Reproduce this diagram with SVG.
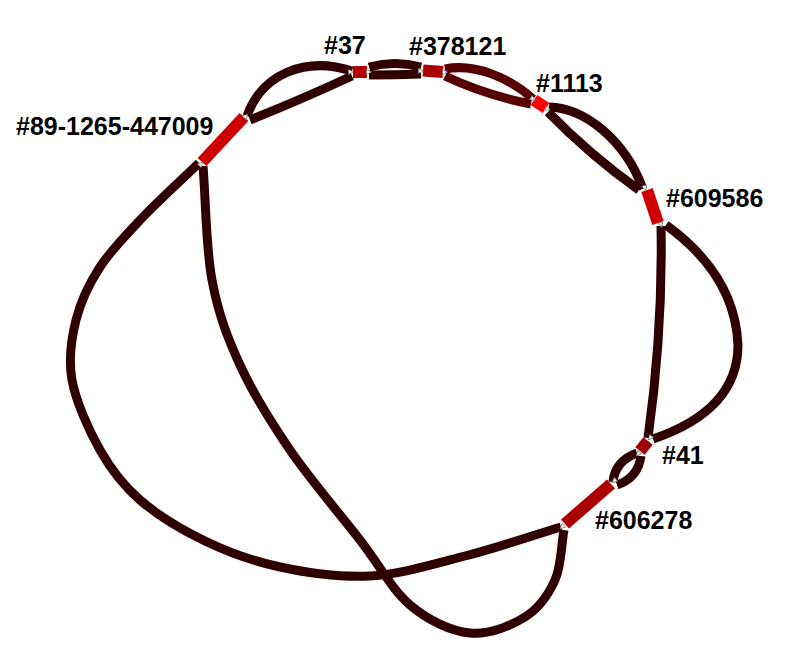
<svg xmlns="http://www.w3.org/2000/svg" width="800" height="653" viewBox="0 0 800 653">
<style>
.e{fill:none;stroke:#300000;stroke-width:9;stroke-linecap:butt}
.e2{fill:none;stroke:#560000;stroke-width:9;stroke-linecap:butt}
.n{fill:none;stroke-width:12;stroke-linecap:butt}
.lbl{font-family:"Liberation Sans",Arial,sans-serif;font-weight:bold;font-size:25px;fill:#000}
.j{fill:#fff;stroke:#777;stroke-width:0.8}
</style>
<defs>
<polygon id="tri" points="-2.5,-2.5 2.5,0 -2.5,2.5"/>
</defs>
<rect width="800" height="653" fill="#fff"/>
<g id="connectors">
<path class="e" d="M247,116 C262,74 305,56 352,71"/>
<path class="e" d="M250,120 Q300,100 352,76"/>
<path class="e" d="M369,67 Q395,60 421,67"/>
<path class="e" d="M369,75 Q395,75 421,74"/>
<path class="e2" d="M445,69 C475,63 510,78 533,99"/>
<path class="e2" d="M445,76 Q485,95 531,104"/>
<path class="e" d="M549,107 C585,108 625,140 643,189"/>
<path class="e" d="M548,112 Q590,155 639,190"/>
<path class="e" d="M661,226 Q663,330 648,438"/>
<path class="e" d="M666,225 Q735,275 738,345 Q738,410 653,439"/>
<path class="e" d="M637,453 Q615,461 613,482"/>
<path class="e" d="M641,456 Q638,478 617,485"/>
<path class="e" d="M561,527 C529,536.7 496.8,547.8 465,556 C433.2,564.2 400.8,574.2 370,576 C339.2,577.8 307.5,572.8 280,567 C252.5,561.2 228.3,552.2 205,541 C181.7,529.8 157.5,515.2 140,500 C122.5,484.8 111.3,470 100,450 C88.7,430 76,401.7 72,380 C68,358.3 71.3,338.8 76,320 C80.7,301.2 88.8,284.2 100,267 C111.2,249.8 126.5,234.3 143,217 C159.5,199.7 180.3,181 199,163"/>
<path class="e" d="M203,166 C206,204 205.8,246.8 212,280 C218.2,313.2 227,336.7 240,365 C253,393.3 270,420.8 290,450 C310,479.2 340,514.2 360,540 C380,565.8 391.7,589.5 410,605 C428.3,620.5 450.8,631 470,633 C489.2,635 510.8,625.8 525,617 C539.2,608.2 548.5,594.5 555,580 C561.5,565.5 561,546.7 564,530"/>
</g>
<g id="node-89-1265-447009"><line class="n" x1="244" y1="117" x2="202" y2="162" stroke="#cc0000"/></g>
<g id="node-37"><line class="n" x1="353" y1="72" x2="367" y2="72" stroke="#b40000"/></g>
<g id="node-378121"><line class="n" x1="423" y1="70.5" x2="443" y2="72" stroke="#aa0000"/></g>
<g id="node-1113"><line class="n" x1="534" y1="100" x2="546" y2="108" stroke="#ff0000" stroke-width="13"/></g>
<g id="node-609586"><line class="n" x1="647" y1="190" x2="658" y2="223" stroke="#d00000"/></g>
<g id="node-41"><line class="n" x1="648" y1="441" x2="640" y2="451" stroke="#a00000"/></g>
<g id="node-606278"><line class="n" x1="611" y1="484" x2="565" y2="524" stroke="#aa0000"/></g>
<g id="junctions">
<use href="#tri" class="j" transform="translate(246,116) rotate(-47)"/>
<use href="#tri" class="j" transform="translate(201,164) rotate(-47)"/>
<use href="#tri" class="j" transform="translate(351,72)"/>
<use href="#tri" class="j" transform="translate(369,72)"/>
<use href="#tri" class="j" transform="translate(421,71) rotate(3)"/>
<use href="#tri" class="j" transform="translate(445,72) rotate(3)"/>
<use href="#tri" class="j" transform="translate(533,99) rotate(33)"/>
<use href="#tri" class="j" transform="translate(548,109) rotate(33)"/>
<use href="#tri" class="j" transform="translate(645,188) rotate(72)"/>
<use href="#tri" class="j" transform="translate(661,225) rotate(72)"/>
<use href="#tri" class="j" transform="translate(650,438) rotate(129)"/>
<use href="#tri" class="j" transform="translate(638,454) rotate(129)"/>
<use href="#tri" class="j" transform="translate(614,481) rotate(139)"/>
<use href="#tri" class="j" transform="translate(562,527) rotate(139)"/>
</g>
<g id="labels">
<text class="lbl" x="324" y="54">#37</text>
<text class="lbl" x="409" y="55">#378121</text>
<text class="lbl" x="536" y="92">#1113</text>
<text class="lbl" x="16" y="135">#89-1265-447009</text>
<text class="lbl" x="666" y="207">#609586</text>
<text class="lbl" x="662" y="464">#41</text>
<text class="lbl" x="595" y="529">#606278</text>
</g>
</svg>
